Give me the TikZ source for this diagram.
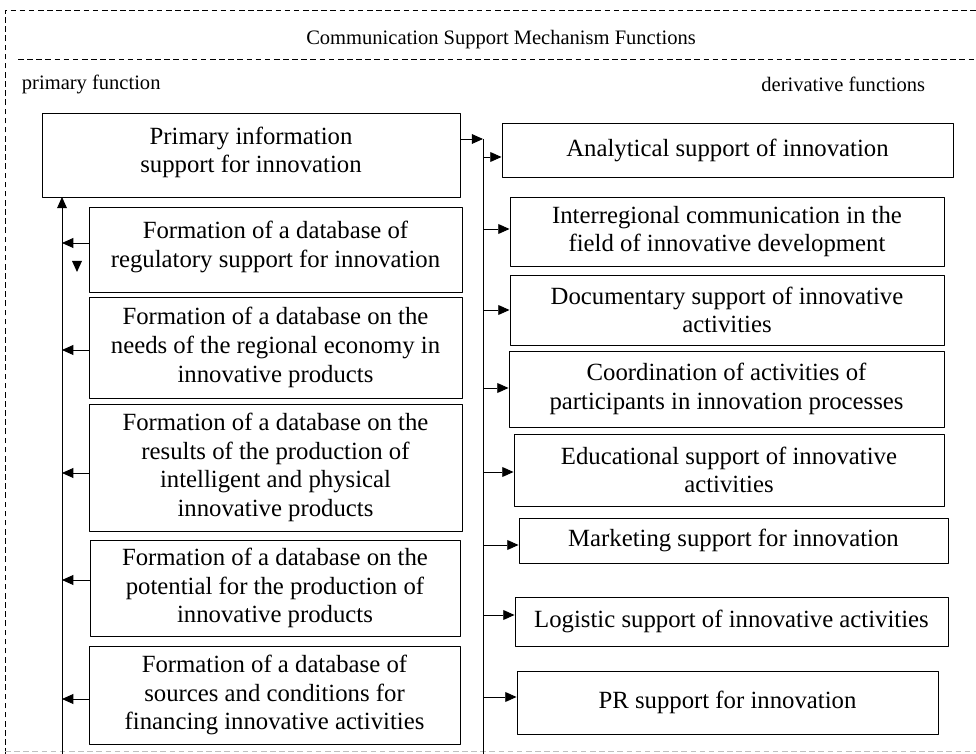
\documentclass[tikz,border=0pt]{standalone}
\usepackage{fontspec}
\setmainfont{Liberation Serif}
\usetikzlibrary{arrows.meta}
\tikzset{
  box/.style={draw, line width=0.6pt, inner sep=0pt, align=center, font=\fontsize{17.6}{20.4}\selectfont},
  arr/.style={line width=0.6pt, -{Triangle[length=8pt,width=7pt]}},
  frame/.style={dashed, line width=0.5pt, dash pattern=on 4pt off 2.5pt},
  head/.style={font=\fontsize{14.6}{16}\selectfont}
}
\newcommand{\lift}{\\[-13pt]\mbox{}}
\begin{document}
\begin{tikzpicture}[x=0.025cm, y=-0.025cm, line join = round]
  \useasboundingbox (0,0) rectangle (976,754);
  % frame
  \draw[frame] (5,754) -- (5,10) -- (980,10);
  \draw[frame] (18,59) -- (980,59);
  \draw[frame, gray!50] (5,751) -- (980,751);
  \node[head] (title) at (501,40) {Communication Support Mechanism Functions};
  \node[head, anchor=west] (pf) at (17,84) {primary function};
  \node[head, anchor=east] (df) at (930,84) {derivative functions};
  % primary function
  \node[box, minimum width=10.45cm, minimum height=2.1cm] (prim) at (251,155) {Primary information\\support for innovation\lift};
  \node[box, minimum width=9.325cm, minimum height=2.125cm] (db1) at (275.5,249.5) {Formation of a database of\\regulatory support for innovation\lift};
  \node[box, minimum width=9.325cm, minimum height=2.525cm] (db2) at (275.5,347.5) {Formation of a database on the\\needs of the regional economy in\\innovative products};
  \node[box, minimum width=9.325cm, minimum height=3.175cm] (db3) at (275.5,467.5) {Formation of a database on the\\results of the production of\\intelligent and physical\\innovative products};
  \node[box, minimum width=9.25cm, minimum height=2.4cm] (db4) at (275,588) {Formation of a database on the\\potential for the production of\\innovative products};
  \node[box, minimum width=9.275cm, minimum height=2.45cm] (db5) at (274.5,695) {Formation of a database of\\sources and conditions for\\financing innovative activities};
  % derivative functions
  \node[box, minimum width=11.275cm, minimum height=1.35cm] (der1) at (727.5,150) {Analytical support of innovation};
  \node[box, minimum width=10.85cm, minimum height=1.725cm] (der2) at (727,231.5) {Interregional communication in the\\field of innovative development};
  \node[box, minimum width=10.85cm, minimum height=1.75cm] (der3) at (727,310) {Documentary support of innovative\\activities};
  \node[box, minimum width=10.875cm, minimum height=1.9cm] (der4) at (726.5,389) {Coordination of activities of\\participants in innovation processes};
  \node[box, minimum width=10.75cm, minimum height=1.8cm] (der5) at (729,470) {Educational support of innovative\\activities};
  \node[box, minimum width=10.725cm, minimum height=1.125cm] (der6) at (733.5,540.5) {Marketing support for innovation};
  \node[box, minimum width=10.825cm, minimum height=1.225cm] (der7) at (731.5,621.5) {Logistic support of innovative activities};
  \node[box, minimum width=10.525cm, minimum height=1.575cm] (der8) at (727.5,702.5) {PR support for innovation};
  % left trunk
  \coordinate (lb) at (62,754);
  \coordinate (lt) at (62,197);
  \draw[arr] (lb) -- (lt);
  \foreach \n/\y in {db1/243, db2/350, db3/473, db4/580, db5/699}
    \draw[arr] (\n.west |- 0,\y) -- (62,\y);
  \fill (72,261) -- (82,261) -- (77,272) -- cycle;
  % right trunk
  \coordinate (rt) at (483,139);
  \coordinate (rb) at (483,754);
  \draw[arr] (prim.east |- rt) -- (rt);
  \draw[line width=0.6pt] (rt) -- (rb);
  \foreach \n/\y in {der1/157, der2/229, der3/310, der4/388, der5/472, der6/545, der7/615, der8/697}
    \draw[arr] (483,\y) -- (\n.west |- 0,\y);
\end{tikzpicture}
\end{document}
